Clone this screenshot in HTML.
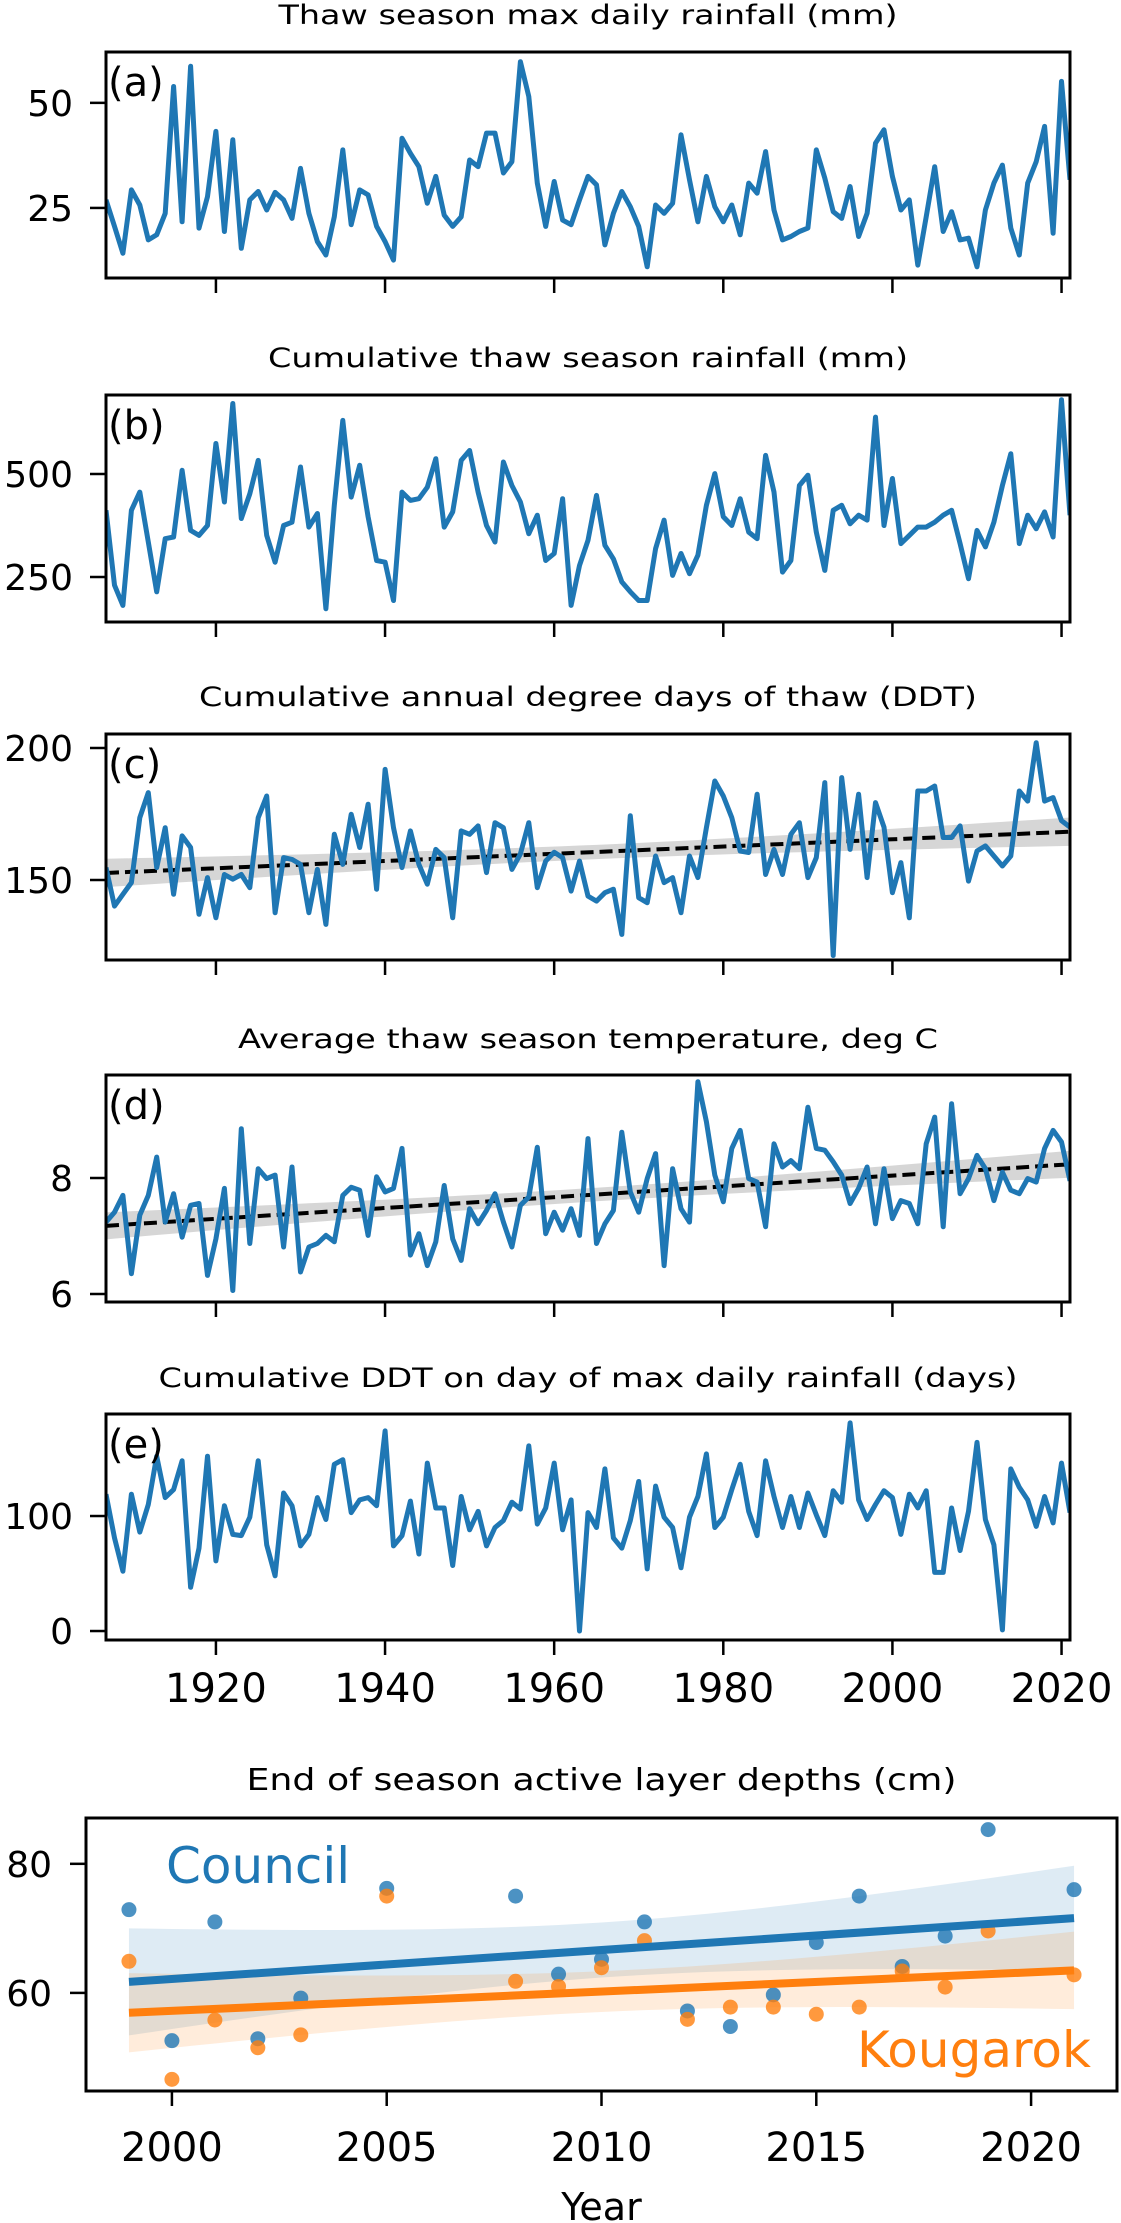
<!DOCTYPE html>
<html><head><meta charset="utf-8"><style>
html,body{margin:0;padding:0;background:#fff;}
svg{display:block;}
</style></head><body>
<svg id="fig" width="1121" height="2223" viewBox="0 0 1121 2223" xmlns="http://www.w3.org/2000/svg" font-family="'DejaVu Sans','Liberation Sans',sans-serif">
<rect width="1121" height="2223" fill="#fff"/>
</svg>
<script>
// ---------- data ----------
const yearStart = 1907;
const maxRain = [26.9,20.6,14.2,29.3,25.7,17.4,18.6,23.7,53.9,21.7,58.7,20.2,27.7,43.2,19.4,41.2,15.4,26.9,28.9,24.5,28.7,26.9,22.5,34.4,23.7,17,13.8,22.9,38.8,21,29.3,28.1,20.6,17,12.6,41.6,38,34.8,26.1,32.5,23.3,20.6,22.9,36.4,34.8,42.8,42.8,33.3,36,59.8,51.5,30.9,20.6,31.3,22.1,21,26.9,32.5,30.5,16.2,23.7,28.9,25.3,20.6,11,25.7,23.7,26.1,42.4,31.7,21.7,32.5,25.3,21.7,25.7,18.6,30.9,28.5,38.4,24.5,17.4,18.2,19.4,20.2,38.8,32.1,24.1,22.5,30.1,18.2,23.7,40.4,43.6,32.5,24.5,26.9,11.4,22.9,34.8,19.4,24.1,17.4,17.8,11,24.5,30.9,35.2,20.2,13.8,30.9,36,44.4,19,55.1,31.7];
const cumRain = [412,230,181,412,456,335,214,343,347,509,363,351,375,574,432,671,392,452,533,351,286,375,383,517,371,404,173,424,630,444,521,396,290,286,193,456,436,440,468,537,371,408,533,557,456,375,335,529,472,432,355,400,290,307,440,181,278,339,448,327,294,238,214,193,193,319,388,254,307,258,303,424,501,396,375,440,359,343,545,456,262,290,472,497,359,266,412,424,379,400,388,638,375,489,331,351,371,371,383,400,412,331,246,363,323,383,472,549,331,400,367,408,347,680,400];
const ddt = [154.7,140.1,144.6,149,173.6,183.1,154.7,169.8,144.6,166.7,162.3,137,150.9,135.7,152.1,150.3,152.1,147.1,173.6,181.8,137.6,158.5,157.8,155.9,137.6,154,133.2,167.3,155.9,174.9,162.3,178.7,146.5,191.9,169.8,154.7,168.6,155.9,148.4,161.6,158.5,135.7,168.6,167.3,170.5,152.8,171.7,169.8,154,159.9,171.7,147.1,157.2,160.5,158.5,145.8,157.2,143.9,142,145.2,146.5,129.4,174.3,143.3,141.4,159.1,149,150.9,137.6,159.1,150.9,169.8,187.5,181.8,173.6,161,160.4,182.5,152.1,161.6,152.1,167.3,171.7,150.9,158.5,186.9,121.4,188.8,161.6,182.5,150.9,179.3,170,145.2,156.6,135.7,183.7,183.7,185.6,166.1,166.1,170.5,149.6,161,162.9,159.1,155.3,159.1,183.7,179.9,202,179.9,181.2,172.5,170];
const avgTemp = [7.24,7.41,7.70,6.35,7.36,7.70,8.36,7.24,7.73,6.98,7.53,7.56,6.32,6.95,7.82,6.06,8.85,6.87,8.16,7.99,8.05,6.81,8.19,6.38,6.81,6.87,7.01,6.90,7.70,7.84,7.79,7.01,8.02,7.76,7.82,8.51,6.67,7.04,6.49,6.90,7.87,6.95,6.58,7.47,7.21,7.44,7.73,7.24,6.81,7.53,7.67,8.53,7.04,7.41,7.10,7.47,7.01,8.68,6.87,7.21,7.44,8.79,7.76,7.41,7.99,8.42,6.49,8.16,7.47,7.24,9.66,8.97,8.05,7.59,8.51,8.82,7.99,7.93,7.16,8.59,8.19,8.30,8.16,9.22,8.51,8.48,8.28,8.05,7.56,7.82,8.19,7.21,8.16,7.30,7.61,7.56,7.21,8.59,9.05,7.16,9.28,7.73,7.99,8.39,8.16,7.61,8.10,7.79,7.73,7.99,7.93,8.51,8.82,8.62,7.95];
const ddtAtMax = [119,81,52,119,86,110,152,116,123,148,38,72,152,61,109,84,83,99,148,75,48,120,109,74,84,116,97,145,149,103,114,116,109,174,74,83,113,67,146,107,107,57,117,88,104,74,90,96,112,106,161,93,107,146,88,114,0,103,90,141,81,72,96,130,54,126,99,90,55,99,117,154,90,99,123,145,104,83,148,117,90,117,90,120,101,83,122,112,181,114,97,110,122,116,84,119,107,122,51,51,107,70,104,164,97,75,1,141,125,114,91,117,94,146,103];
const yearTicks = [1920,1940,1960,1980,2000,2020];

const alYears = [1999,2000,2001,2002,2003,2005,2008,2009,2010,2011,2012,2013,2014,2015,2016,2017,2018,2019,2021];
const council = [72.9,52.6,71,52.9,59.2,76.2,75,62.9,65.2,71,57.2,54.8,59.7,67.8,75,64.1,68.8,85.3,76];
const kougarok = [64.9,46.6,55.8,51.5,53.5,75,61.8,61,63.9,68.1,55.9,57.8,57.8,56.7,57.8,63.4,60.9,69.6,62.8];
const alXTicks = [2000,2005,2010,2015,2020];
const alYTicks = [60,80];

// ---------- helpers ----------
const NS = 'http://www.w3.org/2000/svg';
const svg = document.getElementById('fig');
function el(tag, attrs, parent){
  const e = document.createElementNS(NS, tag);
  for (const k in attrs) e.setAttribute(k, attrs[k]);
  (parent || svg).appendChild(e);
  return e;
}
function scale(d0,d1,r0,r1){ return v => r0 + (v-d0)*(r1-r0)/(d1-d0); }
function regress(xs, ys){
  const n = xs.length;
  const mx = xs.reduce((a,b)=>a+b,0)/n, my = ys.reduce((a,b)=>a+b,0)/n;
  let sxx=0, sxy=0;
  for (let i=0;i<n;i++){ sxx+=(xs[i]-mx)**2; sxy+=(xs[i]-mx)*(ys[i]-my); }
  const b = sxy/sxx, a = my - b*mx;
  let sse=0; for (let i=0;i<n;i++){ sse += (ys[i]-(a+b*xs[i]))**2; }
  const s = Math.sqrt(sse/(n-2));
  const t = n > 30 ? 1.98 : 2.11;
  return {a,b,ci: x => t*s*Math.sqrt(1/n + (x-mx)**2/sxx)};
}

const L = 106, R = 1070;
const X = scale(1907, 2021, L, R);
const years = maxRain.map((_,i)=>yearStart+i);

const panels = [
  {key:'a', name:'max-daily-rainfall', title:'Thaw season max daily rainfall (mm)', tw:619, tb:24, top:52, bot:278, d0:8.33, d1:62.1, data:maxRain, yt:[25,50], trend:false},
  {key:'b', name:'cumulative-rainfall', title:'Cumulative thaw season rainfall (mm)', tw:640, tb:367, top:395, bot:622, d0:140.8, d1:691.7, data:cumRain, yt:[250,500], trend:false},
  {key:'c', name:'degree-days-thaw', title:'Cumulative annual degree days of thaw (DDT)', tw:778, tb:706, top:734, bot:960, d0:119.7, d1:205.3, data:ddt, yt:[150,200], trend:true},
  {key:'d', name:'avg-thaw-temp', title:'Average thaw season temperature, deg C', tw:700, tb:1048, top:1075, bot:1302, d0:5.862, d1:9.776, data:avgTemp, yt:[6,8], trend:true},
  {key:'e', name:'ddt-on-max-rain-day', title:'Cumulative DDT on day of max daily rainfall (days)', tw:859, tb:1387, top:1414, bot:1640, d0:-7.8, d1:188.7, data:ddtAtMax, yt:[0,100], trend:false}
];

panels.forEach(p => {
  const g = el('g', {});
  
  
  const Y = scale(p.d0, p.d1, p.bot, p.top);
  const t = el('text', {x:(L+R)/2, y:p.tb, 'font-size':27, 'text-anchor':'middle', fill:'#000', textLength:p.tw, lengthAdjust:'spacingAndGlyphs'}, g);
  t.textContent = p.title;
  
  
  const cid = 'clip-' + p.key;
  const cp = el('clipPath', {id:cid}, g);
  el('rect', {x:L, y:p.top, width:R-L, height:p.bot-p.top}, cp);
  const plot = el('g', {'clip-path':'url(#'+cid+')'}, g);
  if (p.trend){
    const r = regress(years, p.data);
    let up='', dn='';
    const pts = [];
    for (let yr=1907; yr<=2021; yr+=2) pts.push(yr);
    pts.push(2021);
    pts.forEach((yr,i)=>{ up += (i?'L':'M') + X(yr) + ',' + Y(r.a+r.b*yr+r.ci(yr)); });
    pts.slice().reverse().forEach(yr=>{ dn += 'L' + X(yr) + ',' + Y(r.a+r.b*yr-r.ci(yr)); });
    const band = el('path', {d: up+dn+'Z', fill:'#bbbbbb', 'fill-opacity':0.6}, plot);
    
    
    const tl = el('line', {x1:X(1907), y1:Y(r.a+r.b*1907), x2:X(2021), y2:Y(r.a+r.b*2021), stroke:'#000', 'stroke-width':4, 'stroke-dasharray':'13 6'}, plot);
    
    
  }
  const d = p.data.map((v,i)=>(i?'L':'M') + X(years[i]).toFixed(1) + ',' + Y(v).toFixed(1)).join('');
  const line = el('path', {d, fill:'none', stroke:'#1f77b4', 'stroke-width':5, 'stroke-linejoin':'round'}, plot);
  
  
  const fr = el('rect', {x:L, y:p.top, width:R-L, height:p.bot-p.top, fill:'none', stroke:'#000', 'stroke-width':3}, g);
  
  
  p.yt.forEach(v => {
    el('line', {x1:L-16, x2:L, y1:Y(v), y2:Y(v), stroke:'#000', 'stroke-width':2.5}, g);
    const tt = el('text', {x:73, y:Y(v)+13, 'font-size':36, 'text-anchor':'end', fill:'#000'}, g);
    tt.textContent = v;
    
    
  });
  yearTicks.forEach(v => {
    el('line', {x1:X(v), x2:X(v), y1:p.bot, y2:p.bot+15, stroke:'#000', 'stroke-width':2.5}, g);
    if (p.key === 'e'){
      const xt = el('text', {x:X(v), y:1702, 'font-size':40, 'text-anchor':'middle', fill:'#000'}, g);
      xt.textContent = v;
      
      
    }
  });
  const lab = el('text', {x:108, y:p.top + 44, 'font-size':40, fill:'#000'}, g);
  lab.textContent = '(' + p.key + ')';
  
  
});

// ---------- panel f ----------
(function(){
  const fL = 86, fR = 1117, fT = 1818, fB = 2091;
  const FX = scale(1998, 2022, fL, fR);
  const FY = scale(44.8, 87.1, fB, fT);
  const g = el('g', {});
  
  
  const t = el('text', {x:(fL+fR)/2, y:1790, 'font-size':30, 'text-anchor':'middle', fill:'#000', textLength:710, lengthAdjust:'spacingAndGlyphs'}, g);
  t.textContent = 'End of season active layer depths (cm)';
  
  
  const cp = el('clipPath', {id:'clip-f'}, g);
  el('rect', {x:fL, y:fT, width:fR-fL, height:fB-fT}, cp);
  const plot = el('g', {'clip-path':'url(#clip-f)'}, g);
  const series = [{n:'council', data:council, c:'#1f77b4'}, {n:'kougarok', data:kougarok, c:'#ff7f0e'}];
  const x0 = alYears[0], x1 = alYears[alYears.length-1];
  series.forEach(s => {
    const r = regress(alYears, s.data);
    let up='', dn='';
    const pts=[]; for (let yr=x0; yr<=x1; yr+=0.5) pts.push(yr);
    pts.forEach((yr,i)=>{ up += (i?'L':'M') + FX(yr) + ',' + FY(r.a+r.b*yr+r.ci(yr)); });
    pts.slice().reverse().forEach(yr=>{ dn += 'L' + FX(yr) + ',' + FY(r.a+r.b*yr-r.ci(yr)); });
    const band = el('path', {d:up+dn+'Z', fill:s.c, 'fill-opacity':0.15}, plot);
    
    
    s.r = r;
  });
  series.forEach(s => {
    s.data.forEach((v,i) => {
      const c = el('circle', {cx:FX(alYears[i]), cy:FY(v), r:7.5, fill:s.c, 'fill-opacity':0.8}, plot);
      
      
    });
  });
  series.forEach(s => {
    const ln = el('line', {x1:FX(x0), y1:FY(s.r.a+s.r.b*x0), x2:FX(x1), y2:FY(s.r.a+s.r.b*x1), stroke:s.c, 'stroke-width':8}, plot);
    
    
  });
  const fr = el('rect', {x:fL, y:fT, width:fR-fL, height:fB-fT, fill:'none', stroke:'#000', 'stroke-width':3}, g);
  
  
  alYTicks.forEach(v => {
    el('line', {x1:fL-16, x2:fL, y1:FY(v), y2:FY(v), stroke:'#000', 'stroke-width':2.5}, g);
    const tt = el('text', {x:52, y:FY(v)+13, 'font-size':36, 'text-anchor':'end', fill:'#000'}, g);
    tt.textContent = v;
    
    
  });
  alXTicks.forEach(v => {
    el('line', {x1:FX(v), x2:FX(v), y1:fB, y2:fB+15, stroke:'#000', 'stroke-width':2.5}, g);
    const xt = el('text', {x:FX(v), y:2161, 'font-size':40, 'text-anchor':'middle', fill:'#000'}, g);
    xt.textContent = v;
    
    
  });
  const xl = el('text', {x:(fL+fR)/2, y:2220, 'font-size':38, 'text-anchor':'middle', fill:'#000'}, g);
  xl.textContent = 'Year';
  
  
  const lc = el('text', {x:166, y:1883, 'font-size':50, fill:'#1f77b4'}, g);
  lc.textContent = 'Council';
  
  
  const lk = el('text', {x:857, y:2067, 'font-size':50, fill:'#ff7f0e'}, g);
  lk.textContent = 'Kougarok';
  
  
})();
</script>
</body></html>
